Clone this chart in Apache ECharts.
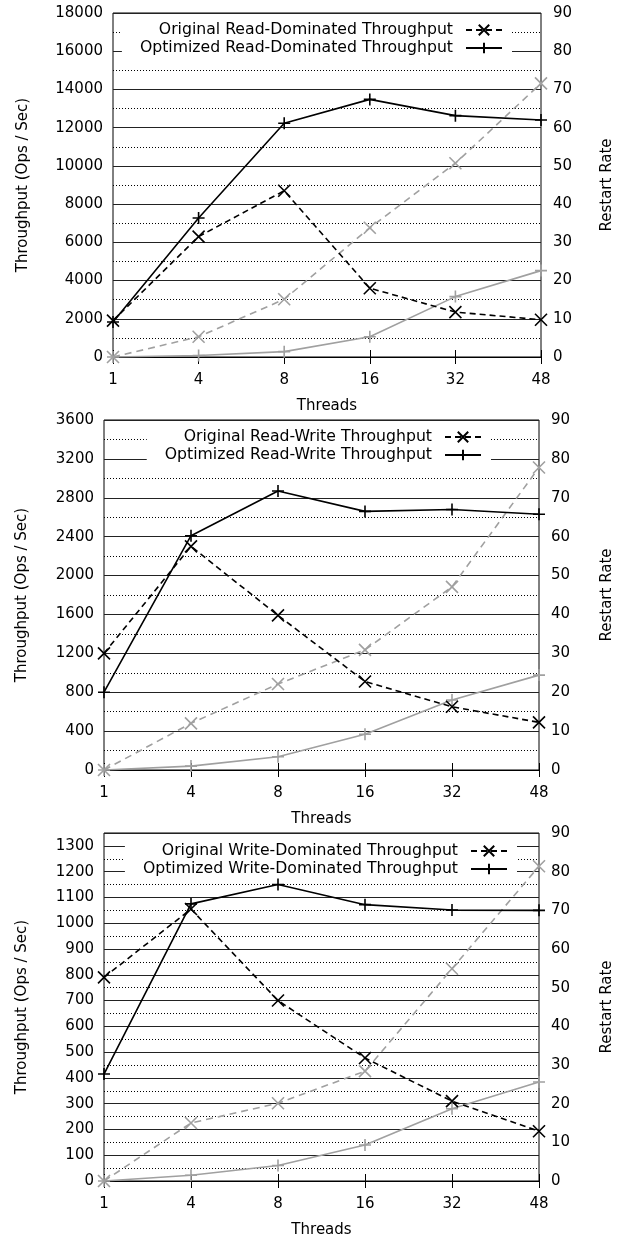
<!DOCTYPE html>
<html>
<head>
<meta charset="utf-8">
<script src="https://cdn.jsdelivr.net/npm/echarts@6/dist/echarts.min.js"></script>
<style>
  html, body { margin: 0; padding: 0; background: #fff; }
  #chart { width: 623px; height: 1239px; }
</style>
</head>
<body>
<div id="chart"></div>
<script>
// x categories (thread counts)
const threads = ['1', '4', '8', '16', '32', '48']

// read-dominated
const readOrig = [1900, 6300, 8700, 3600, 2350, 1950]
const readOpt = [1830, 7270, 12230, 13480, 12630, 12400]
const readOrigRestart = [0, 5.3, 15.1, 33.8, 50.7, 71.6]
const readOptRestart = [0, 0.4, 1.4, 5.3, 15.8, 22.6]

// read-write
const rwOrig = [1200, 2300, 1590, 910, 650, 490]
const rwOpt = [800, 2410, 2870, 2660, 2680, 2630]
const rwOrigRestart = [0, 12.0, 22.1, 30.9, 47.1, 77.8]
const rwOptRestart = [0, 1.0, 3.4, 9.2, 18.0, 24.4]

// write-dominated
const wdOrig = [790, 1055, 700, 477, 310, 193]
const wdOpt = [415, 1075, 1150, 1072, 1051, 1050]
const wdOrigRestart = [0, 15.0, 20.1, 28.4, 54.9, 81.4]
const wdOptRestart = [0, 1.5, 4.0, 9.3, 18.7, 25.6]

// axis ranges
const leftMax = [18000, 3600, 1350]
const leftStep = [2000, 400, 100]
const rightMax = 90

const FONT = 'DejaVu Sans'
const X_SYM = 'path://M0,0L10,10M10,0L0,10'
const P_SYM = 'path://M5,0L5,10M0,5L10,5'

const chart = echarts.init(document.getElementById('chart'))

// panel layout
const panels = [
  { top: 13, height: 344, left: 113, right: 77, legendTop: 20, legendRight: 111, nameGapL: 82, nameGapR: 59,
    names: ['Original Read-Dominated Throughput', 'Optimized Read-Dominated Throughput'],
    data: [readOrig, readOpt, readOrigRestart, readOptRestart] },
  { top: 420, height: 350, left: 104, right: 79, legendTop: 427, legendRight: 132, nameGapL: 74, nameGapR: 61,
    names: ['Original Read-Write Throughput', 'Optimized Read-Write Throughput'],
    data: [rwOrig, rwOpt, rwOrigRestart, rwOptRestart] },
  { top: 833, height: 351, left: 104, right: 79, legendTop: 841, legendRight: 106, nameGapL: 74, nameGapR: 61,
    names: ['Original Write-Dominated Throughput', 'Optimized Write-Dominated Throughput'],
    data: [wdOrig, wdOpt, wdOrigRestart, wdOptRestart] }
]

const grid = [], xAxis = [], yAxis = [], series = [], legend = []
const plain = (v) => String(v)

panels.forEach((p, i) => {
  grid.push({
    left: p.left, right: p.right, top: p.top, height: p.height,
    show: true, borderColor: '#000', borderWidth: 1, backgroundColor: 'transparent'
  })
  // bottom axis
  xAxis.push({
    type: 'category', gridIndex: i, data: threads, boundaryGap: false,
    name: 'Threads', nameLocation: 'middle', nameGap: 42,
    nameTextStyle: { fontFamily: FONT, fontSize: 15, color: '#000' },
    axisLine: { lineStyle: { color: '#000' } },
    axisTick: { inside: true, length: 7, lineStyle: { color: '#000' } },
    axisLabel: { fontFamily: FONT, fontSize: 15, color: '#000', margin: 16 },
    splitLine: { show: false }
  })
  // top ticks (mirror)
  xAxis.push({
    type: 'category', gridIndex: i, data: threads, boundaryGap: false, position: 'top',
    axisLine: { show: false },
    axisTick: { inside: true, length: 7, lineStyle: { color: '#000' } },
    axisLabel: { show: false },
    splitLine: { show: false }
  })
  yAxis.push({
    type: 'value', gridIndex: i, min: 0, max: leftMax[i], interval: leftStep[i],
    name: 'Throughput (Ops / Sec)', nameLocation: 'middle', nameGap: p.nameGapL,
    nameTextStyle: { fontFamily: FONT, fontSize: 15, color: '#000' },
    axisLine: { show: false },
    axisTick: { show: false },
    axisLabel: { fontFamily: FONT, fontSize: 15, color: '#000', margin: 10, formatter: plain },
    splitLine: { show: true, lineStyle: { color: '#222', width: 1 } },
    minorTick: { show: false, splitNumber: 2 },
    minorSplitLine: { show: true, lineStyle: { color: '#000', width: 1, type: [1, 2] } }
  })
  yAxis.push({
    type: 'value', gridIndex: i, min: 0, max: rightMax, interval: 10, position: 'right',
    name: 'Restart Rate', nameLocation: 'middle', nameGap: p.nameGapR,
    nameTextStyle: { fontFamily: FONT, fontSize: 15, color: '#000' },
    axisLine: { show: false },
    axisTick: { show: false },
    axisLabel: { fontFamily: FONT, fontSize: 15, color: '#000', margin: 12, formatter: plain },
    splitLine: { show: false }
  })

  const xi = i * 2, yl = i * 2, yr = i * 2 + 1
  const base = { type: 'line', xAxisIndex: xi, symbolSize: 12, showSymbol: true, z: 3,
    emphasis: { disabled: true }, silent: true }

  // gray restart-rate lines
  series.push(Object.assign({}, base, {
    name: 'orig-restart-' + i, yAxisIndex: yr, data: p.data[2], symbol: X_SYM,
    lineStyle: { color: '#a0a0a0', width: 1.6, type: [7, 5] },
    itemStyle: { color: '#a0a0a0', borderColor: '#a0a0a0', borderWidth: 1.6 }
  }))
  series.push(Object.assign({}, base, {
    name: 'opt-restart-' + i, yAxisIndex: yr, data: p.data[3], symbol: P_SYM,
    lineStyle: { color: '#a0a0a0', width: 1.6 },
    itemStyle: { color: '#a0a0a0', borderColor: '#a0a0a0', borderWidth: 1.6 }
  }))
  // black throughput lines
  series.push(Object.assign({}, base, {
    name: p.names[0], yAxisIndex: yl, data: p.data[0], symbol: X_SYM, z: 4,
    lineStyle: { color: '#000', width: 1.6, type: [6, 4] },
    itemStyle: { color: '#000', borderColor: '#000', borderWidth: 1.6 }
  }))
  series.push(Object.assign({}, base, {
    name: p.names[1], yAxisIndex: yl, data: p.data[1], symbol: P_SYM, z: 4,
    lineStyle: { color: '#000', width: 1.6 },
    itemStyle: { color: '#000', borderColor: '#000', borderWidth: 1.6 }
  }))

  legend.push({
    data: p.names, orient: 'vertical', align: 'right',
    top: p.legendTop, right: p.legendRight,
    backgroundColor: '#fff', padding: [2, 9, 2, 18],
    itemWidth: 36, itemHeight: 13, itemGap: 2,
    selectedMode: false,
    textStyle: { fontFamily: FONT, fontSize: 15.7, color: '#000', padding: [0, 8, 0, 0] }
  })
})

chart.setOption({
  animation: false,
  backgroundColor: '#fff',
  textStyle: { fontFamily: FONT },
  grid, xAxis, yAxis, series, legend
})
</script>
</body>
</html>
